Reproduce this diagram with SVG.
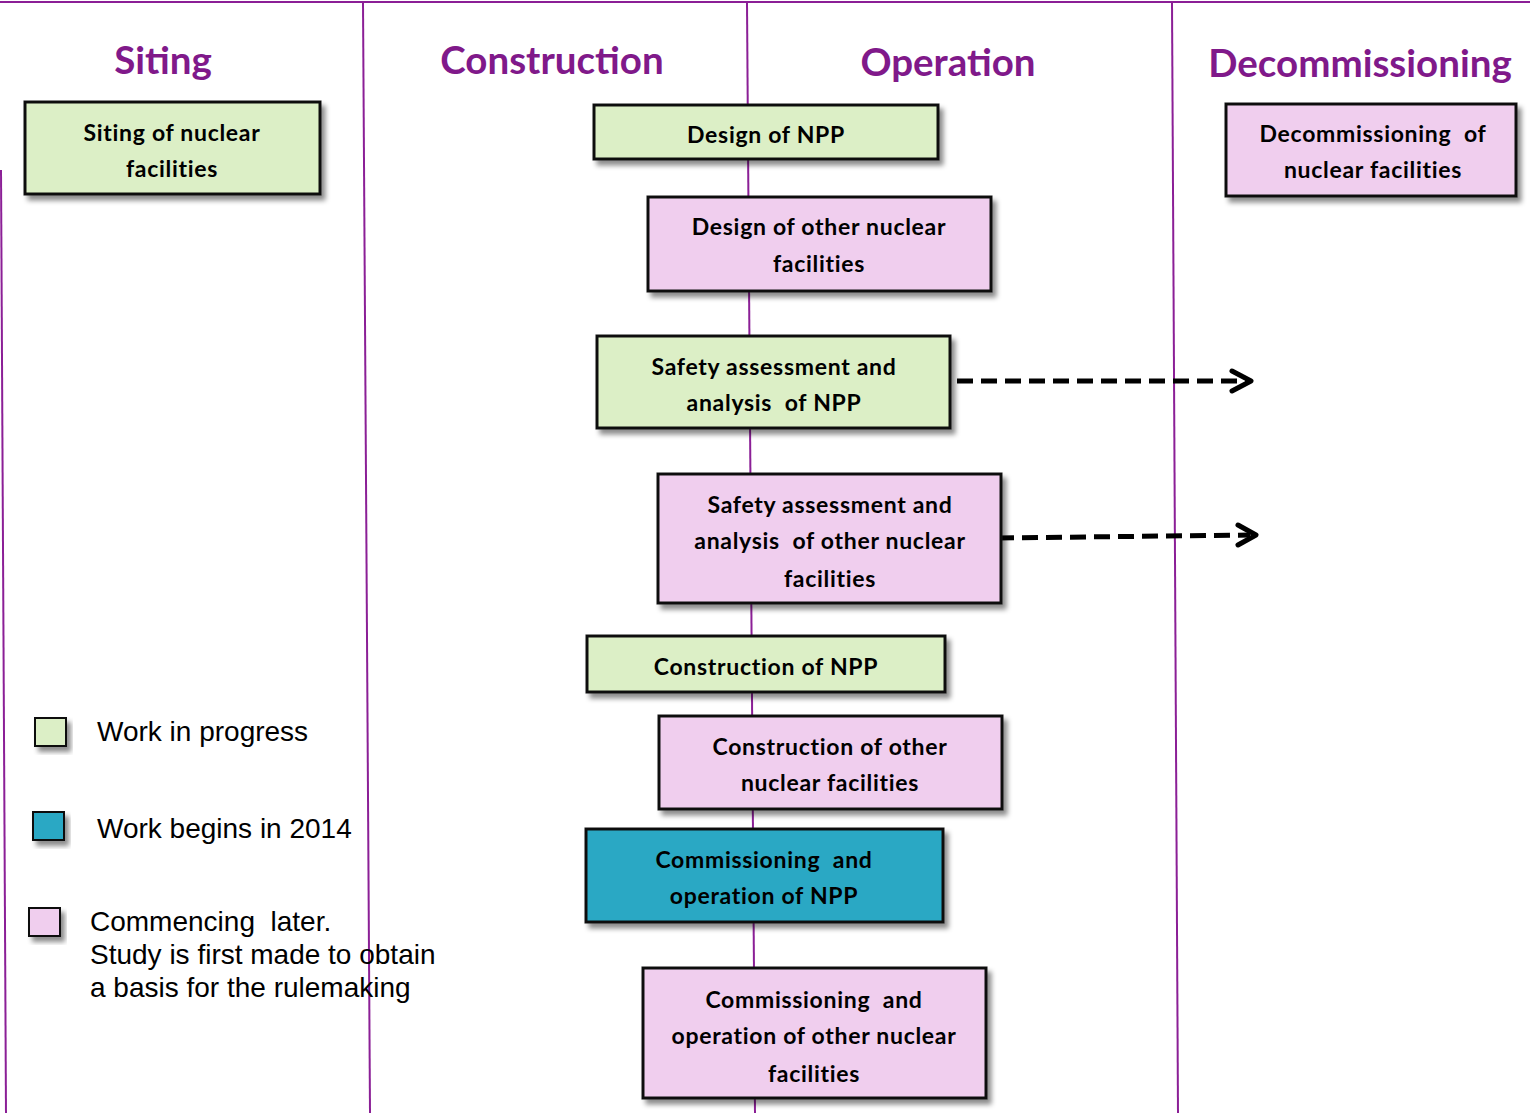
<svg xmlns="http://www.w3.org/2000/svg" width="1530" height="1113" viewBox="0 0 1530 1113">
<style>
.lane{stroke:#8B1F96;stroke-width:2;fill:none}
.title{font-family:Lato,"Open Sans","Liberation Sans",sans-serif;font-weight:bold;font-size:38.5px;fill:#80198A;text-anchor:middle}
.box{stroke:#111;stroke-width:3;filter:url(#sh)}
.g{fill:#DCEFC6}
.p{fill:#F0CEEE}
.t{fill:#2BA8C4}
.lbl{font-family:Lato,"Open Sans","Liberation Sans",sans-serif;font-weight:bold;font-size:23px;letter-spacing:0.7px;fill:#000;text-anchor:middle}
.leg{font-family:"Liberation Sans",Arial,sans-serif;font-size:28px;fill:#000}
.sq{stroke:#111;stroke-width:2;filter:url(#sh)}
.dash{stroke:#000;stroke-width:5;stroke-dasharray:16 8;fill:none}
.head{stroke:#000;stroke-width:5;fill:none;stroke-linecap:round;stroke-linejoin:round}
</style>
<defs>
<filter id="sh" x="-10%" y="-10%" width="130%" height="140%">
<feDropShadow dx="4" dy="5" stdDeviation="2.5" flood-color="#000" flood-opacity="0.45"/>
</filter>
</defs>
<rect width="1530" height="1113" fill="#fff"/>
<g id="lanes">
<line class="lane" x1="0" y1="2" x2="1530" y2="2"/>
<line class="lane" x1="1" y1="170" x2="6" y2="1113"/>
<line class="lane" x1="363" y1="3" x2="370" y2="1113"/>
<line class="lane" x1="747" y1="3" x2="755" y2="1113"/>
<line class="lane" x1="1172" y1="3" x2="1178" y2="1113"/>
</g>
<g id="titles">
<text class="title" x="163" y="74">Siting</text>
<text class="title" x="552" y="74">Construction</text>
<text class="title" x="948" y="76">Operation</text>
<text class="title" x="1360" y="77">Decommissioning</text>
</g>
<g id="connectors">
<line class="dash" x1="957" y1="381" x2="1246" y2="381"/>
<polyline class="head" points="1232,371 1251,381 1232,391"/>
<line class="dash" x1="998" y1="538" x2="1250" y2="535"/>
<polyline class="head" points="1238,525 1256,535 1238,545"/>
</g>
<g id="n1"><rect class="box g" x="25" y="102" width="295" height="92"/>
<text class="lbl" x="172" y="141">Siting of nuclear</text><text class="lbl" x="172" y="177">facilities</text></g>
<g id="n2"><rect class="box g" x="594" y="105" width="344" height="54"/>
<text class="lbl" x="766" y="143">Design of NPP</text></g>
<g id="n3"><rect class="box p" x="648" y="197" width="343" height="94"/>
<text class="lbl" x="819" y="235">Design of other nuclear</text><text class="lbl" x="819" y="272">facilities</text></g>
<g id="n4"><rect class="box g" x="597" y="336" width="353" height="92"/>
<text class="lbl" x="774" y="375">Safety assessment and</text><text class="lbl" x="774" y="411" xml:space="preserve">analysis  of NPP</text></g>
<g id="n5"><rect class="box p" x="658" y="474" width="343" height="129"/>
<text class="lbl" x="830" y="513">Safety assessment and</text><text class="lbl" x="830" y="549" xml:space="preserve">analysis  of other nuclear</text><text class="lbl" x="830" y="587">facilities</text></g>
<g id="n6"><rect class="box g" x="587" y="636" width="358" height="56"/>
<text class="lbl" x="766" y="675">Construction of NPP</text></g>
<g id="n7"><rect class="box p" x="659" y="716" width="343" height="93"/>
<text class="lbl" x="830" y="755">Construction of other</text><text class="lbl" x="830" y="791">nuclear facilities</text></g>
<g id="n8"><rect class="box t" x="586" y="829" width="357" height="93"/>
<text class="lbl" x="764" y="868" xml:space="preserve">Commissioning  and</text><text class="lbl" x="764" y="904">operation of NPP</text></g>
<g id="n9"><rect class="box p" x="643" y="968" width="343" height="130"/>
<text class="lbl" x="814" y="1008" xml:space="preserve">Commissioning  and</text><text class="lbl" x="814" y="1044">operation of other nuclear</text><text class="lbl" x="814" y="1082">facilities</text></g>
<g id="n10"><rect class="box p" x="1226" y="104" width="290" height="92"/>
<text class="lbl" x="1373" y="142" xml:space="preserve">Decommissioning  of</text><text class="lbl" x="1373" y="178">nuclear facilities</text></g>
<g id="legend">
<rect class="sq g" x="35" y="718" width="31" height="28"/>
<text class="leg" x="97" y="741">Work in progress</text>
<rect class="sq t" x="33" y="812" width="31" height="28"/>
<text class="leg" x="97" y="838">Work begins in 2014</text>
<rect class="sq p" x="29" y="908" width="31" height="28"/>
<text class="leg" x="90" y="931" xml:space="preserve">Commencing  later.</text>
<text class="leg" x="90" y="964">Study is first made to obtain</text>
<text class="leg" x="90" y="997">a basis for the rulemaking</text>
</g>
</svg>
